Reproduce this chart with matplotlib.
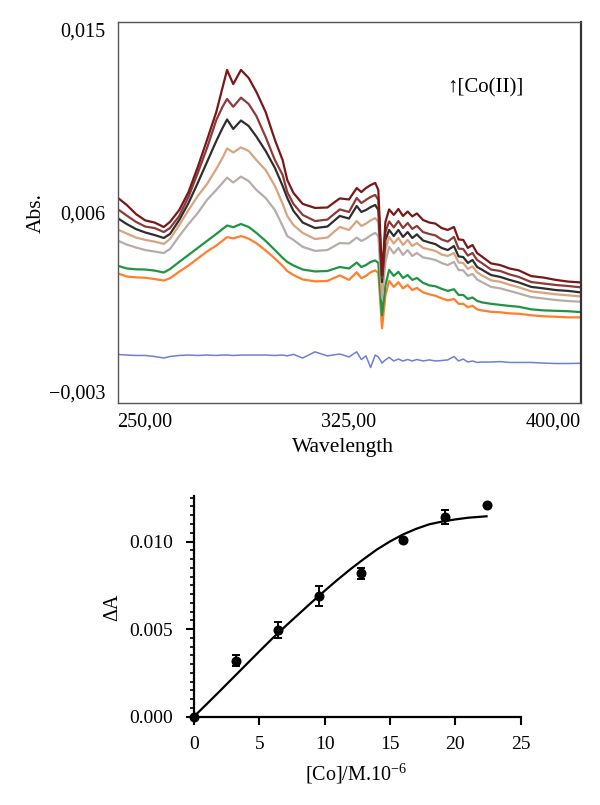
import numpy as np
import matplotlib
matplotlib.use("Agg")
import matplotlib.pyplot as plt
from matplotlib.ticker import MultipleLocator

plt.rcParams['font.family'] = ['Liberation Serif', 'DejaVu Serif']
plt.rcParams['mathtext.fontset'] = 'custom'
plt.rcParams['mathtext.rm'] = 'Liberation Serif'
plt.rcParams['mathtext.it'] = 'Liberation Serif:italic'

# ---------------- top panel data (absorbance in 10^-3 units) ----------------
wavelength = [250, 253, 256, 259, 262, 265, 267, 270, 273, 276,
              279, 282, 284, 285.5, 287.5, 290, 292.5, 295, 298, 301,
              303.5, 305, 307, 310, 314, 318, 322, 325, 327.5, 329,
              330.5, 332, 333.5, 334.5, 335.7, 336.8, 338, 339.5, 341, 342.5,
              344, 345.5, 347, 349, 351, 353, 355, 357, 359, 360.5,
              362, 363.5, 365, 366.5, 368, 371, 374, 377, 380, 384,
              388, 392, 396, 400]

abs_darkred = [6.72, 6.37, 5.94, 5.64, 5.54, 5.33, 5.57, 6.13, 6.98, 8.16,
               9.44, 10.76, 11.90, 12.75, 12.08, 12.75, 12.37, 11.71, 10.76, 9.44,
               8.49, 7.55, 6.94, 6.42, 6.23, 6.25, 6.68, 6.63, 7.17, 6.98,
               7.17, 7.31, 7.41, 7.08, 3.06, 5.57, 6.16, 5.90, 6.18, 5.85,
               6.06, 5.83, 5.97, 5.66, 5.54, 5.49, 5.28, 5.19, 5.33, 4.74,
               4.72, 4.34, 4.48, 4.10, 3.94, 3.61, 3.53, 3.37, 3.28, 3.01,
               2.94, 2.83, 2.75, 2.71]
abs_brown = [6.18, 5.87, 5.57, 5.35, 5.28, 5.09, 5.28, 5.85, 6.75, 7.88,
             9.06, 10.38, 11.00, 11.38, 11.01, 11.44, 11.14, 10.57, 9.58, 8.49,
             7.79, 6.98, 6.42, 5.90, 5.61, 5.68, 6.16, 6.04, 6.70, 6.46,
             6.61, 6.75, 6.84, 6.61, 2.92, 5.09, 5.59, 5.31, 5.61, 5.28,
             5.52, 5.24, 5.38, 5.09, 5.00, 4.93, 4.74, 4.64, 4.86, 4.31,
             4.29, 3.98, 4.10, 3.77, 3.63, 3.32, 3.25, 3.09, 2.97, 2.73,
             2.66, 2.59, 2.54, 2.48]
abs_black = [5.75, 5.47, 5.23, 5.07, 4.95, 4.81, 5.00, 5.66, 6.46, 7.41,
             8.40, 9.39, 10.00, 10.41, 9.96, 10.36, 10.10, 9.60, 8.92, 8.12,
             7.27, 6.70, 6.09, 5.54, 5.28, 5.35, 5.85, 5.73, 6.32, 6.04,
             6.13, 6.27, 6.37, 6.13, 2.73, 4.72, 5.19, 4.90, 5.19, 4.86,
             5.09, 4.81, 4.98, 4.69, 4.60, 4.52, 4.34, 4.24, 4.43, 3.94,
             3.91, 3.63, 3.77, 3.44, 3.32, 3.06, 2.97, 2.83, 2.71, 2.50,
             2.43, 2.35, 2.31, 2.24]
abs_tan = [5.21, 5.02, 4.83, 4.72, 4.64, 4.53, 4.76, 5.42, 6.13, 6.79,
           7.36, 8.07, 8.59, 9.04, 8.85, 9.09, 8.92, 8.49, 8.02, 7.27,
           6.42, 5.85, 5.42, 5.05, 4.76, 4.83, 5.33, 5.19, 5.61, 5.38,
           5.49, 5.64, 5.75, 5.57, 2.35, 4.24, 4.86, 4.55, 4.81, 4.48,
           4.72, 4.43, 4.57, 4.34, 4.27, 4.20, 4.03, 3.96, 4.10, 3.65,
           3.63, 3.35, 3.47, 3.19, 3.05, 2.81, 2.74, 2.60, 2.48, 2.29,
           2.22, 2.15, 2.10, 2.05]
abs_gray = [4.69, 4.50, 4.36, 4.24, 4.17, 4.10, 4.29, 4.90, 5.47, 5.99,
            6.61, 7.08, 7.41, 7.66, 7.43, 7.71, 7.50, 7.08, 6.70, 6.13,
            5.38, 4.90, 4.72, 4.39, 4.20, 4.24, 4.57, 4.55, 4.83, 4.67,
            4.78, 4.93, 5.05, 4.90, 1.96, 3.68, 4.39, 4.08, 4.34, 4.01,
            4.24, 3.96, 4.10, 3.89, 3.84, 3.77, 3.63, 3.53, 3.68, 3.30,
            3.28, 3.02, 3.11, 2.85, 2.73, 2.50, 2.43, 2.31, 2.19, 2.02,
            1.95, 1.88, 1.83, 1.80]
abs_green = [3.50, 3.37, 3.33, 3.32, 3.27, 3.18, 3.34, 3.68, 4.01, 4.34,
             4.67, 5.00, 5.23, 5.40, 5.32, 5.47, 5.33, 5.05, 4.67, 4.24,
             3.87, 3.68, 3.51, 3.32, 3.23, 3.25, 3.44, 3.37, 3.65, 3.44,
             3.53, 3.68, 3.75, 3.63, 1.16, 2.58, 3.30, 3.02, 3.21, 2.92,
             3.06, 2.83, 2.92, 2.69, 2.57, 2.53, 2.41, 2.31, 2.39, 2.12,
             2.12, 1.93, 2.00, 1.84, 1.77, 1.70, 1.65, 1.60, 1.56, 1.44,
             1.39, 1.37, 1.35, 1.31]
abs_orange = [3.14, 2.99, 2.95, 2.93, 2.87, 2.80, 2.91, 3.22, 3.51, 3.84,
              4.17, 4.45, 4.68, 4.85, 4.79, 4.90, 4.78, 4.56, 4.22, 3.84,
              3.49, 3.25, 3.06, 2.85, 2.76, 2.78, 3.04, 2.83, 3.19, 2.91,
              3.02, 3.19, 3.28, 3.16, 0.54, 2.11, 2.78, 2.50, 2.72, 2.43,
              2.59, 2.35, 2.45, 2.24, 2.15, 2.08, 1.96, 1.86, 1.93, 1.70,
              1.70, 1.54, 1.61, 1.44, 1.39, 1.32, 1.30, 1.25, 1.23, 1.16,
              1.11, 1.09, 1.06, 1.06]
abs_blue = [-0.69, -0.72, -0.74, -0.74, -0.79, -0.86, -0.79, -0.74, -0.72, -0.74,
            -0.72, -0.74, -0.72, -0.72, -0.74, -0.72, -0.72, -0.72, -0.72, -0.74,
            -0.72, -0.76, -0.69, -0.86, -0.57, -0.76, -0.67, -0.81, -0.57, -0.93,
            -0.76, -1.31, -0.72, -0.81, -1.10, -0.95, -0.83, -1.00, -0.91, -1.00,
            -0.93, -1.00, -0.93, -1.00, -0.95, -1.00, -0.98, -0.95, -0.79, -1.00,
            -0.91, -1.05, -1.00, -1.07, -1.05, -1.05, -1.03, -1.07, -1.07, -1.07,
            -1.10, -1.12, -1.12, -1.11]

spectra = [abs_blue, abs_orange, abs_green, abs_gray, abs_tan, abs_black, abs_brown, abs_darkred]
spectra_colors = ['#6f7fd4', '#ff7f2a', '#1f9443', '#b7acaa', '#d9a37f', '#2e2e2e', '#8d3a3a', '#7a1717']

x_ticks_top = [250, 325, 400]
x_ticklabels_top = ['250,00', '325,00', '400,00']
y_ticks_top = [-0.003, 0.006, 0.015]
y_ticklabels_top = ['\u22120,003', '0,006', '0,015']

# ---------------- bottom panel data ----------------
conc = [0, 3.2, 6.4, 9.6, 12.8, 16.0, 19.2, 22.4]
delta_A = [0, 0.0032, 0.00494, 0.0069, 0.00818, 0.01011, 0.0114, 0.01207]
delta_A_err = [0, 0.0003, 0.00044, 0.00056, 0.00032, 0.00008, 0.00042, 0]

fit_conc = [0, 1, 2, 3, 4, 5, 6, 7, 8, 9, 10, 11, 12, 13, 14, 15, 16, 17, 18, 19, 20, 21, 22.4]
fit_dA = [0, 0.00073, 0.00147, 0.00222, 0.00297, 0.00372, 0.00446, 0.00516, 0.00584,
          0.00652, 0.00718, 0.00782, 0.00843, 0.00900, 0.00954, 0.01000, 0.01040,
          0.01072, 0.01098, 0.01114, 0.01126, 0.01136, 0.01144]

# ---------------- figure ----------------
fig = plt.figure(figsize=(6.0, 8.05), dpi=100)
W, H = 600, 805

# top axes (pixel box 117.5..580.5 x 22.3..403.3)
ax1 = fig.add_axes([117.5 / W, 1 - 403.3 / H, 463 / W, 381 / H])
wl = np.array(wavelength)
for vals, col in zip(spectra, spectra_colors):
    lw = 1.1 if col == '#6f7fd4' else 1.6
    ax1.plot(wl, np.array(vals) * 1e-3, color=col, lw=lw,
             solid_joinstyle='round', solid_capstyle='round')

ax1.set_xlim(250, 400)
ax1.set_ylim(-0.003, 0.015)
ax1.set_xticks(x_ticks_top)
ax1.set_xticklabels(x_ticklabels_top, fontsize=14.5)
ax1.set_yticks(y_ticks_top)
ax1.set_yticklabels(y_ticklabels_top, fontsize=14.5)
ax1.tick_params(axis='both', length=0)
ax1.tick_params(axis='x', pad=7)
ax1.tick_params(axis='y', pad=9)
xl = ax1.get_xticklabels()
xl[0].set_ha('left')
xl[-1].set_ha('right')
yl = ax1.get_yticklabels()
yl[0].set_va('bottom')
yl[-1].set_va('top')
for s in ['left', 'top', 'bottom']:
    ax1.spines[s].set_color('#555555')
    ax1.spines[s].set_linewidth(1.0)
ax1.spines['right'].set_color('#333333')
ax1.spines['right'].set_linewidth(1.6)

ax1.set_ylabel('Abs.', fontsize=15.5, va='center')
ax1.yaxis.set_label_coords(-0.176, 0.5)
ax1.set_xlabel('Wavelength', fontsize=15.5, va='center')
ax1.xaxis.set_label_coords(0.487, -0.117)
ax1.text(0.712, 0.828, '\u2191[Co(II)]', transform=ax1.transAxes, fontsize=15,
         ha='left', va='center')

# bottom axes
ax2 = fig.add_axes([194 / W, 1 - 716.5 / H, 326.5 / W, 220.5 / H])
ax2.plot(fit_conc, fit_dA, color='black', lw=1.6)
ax2.errorbar(conc, delta_A, yerr=delta_A_err, fmt='o', color='black', ms=6.2,
             capsize=3, elinewidth=1.4, capthick=1.4, clip_on=False, zorder=3)
ax2.set_xlim(0, 25)
ax2.set_ylim(0, 0.0126)
ax2.set_xticks([0, 5, 10, 15, 20, 25])
ax2.set_yticks([0.0, 0.005, 0.010])
ax2.set_yticklabels(['0.000', '0.005', '0.010'])
ax2.yaxis.set_minor_locator(MultipleLocator(0.0005))
ax2.tick_params(axis='both', which='major', labelsize=14, length=6, width=1.5, direction='out')
ax2.tick_params(axis='x', pad=8)
ax2.tick_params(axis='y', pad=9)
ax2.tick_params(axis='y', which='minor', length=3, width=1.2)
for s in ['top', 'right']:
    ax2.spines[s].set_visible(False)
for s in ['left', 'bottom']:
    ax2.spines[s].set_linewidth(1.6)
ax2.set_ylabel('\u0394A', fontsize=14.5, va='center')
ax2.yaxis.set_label_coords(-0.248, 0.497)
ax2.set_xlabel('[Co]/M.10$^{-6}$', fontsize=14.5, va='center')
ax2.xaxis.set_label_coords(0.496, -0.259)

fig.savefig('out.png', dpi=100)
